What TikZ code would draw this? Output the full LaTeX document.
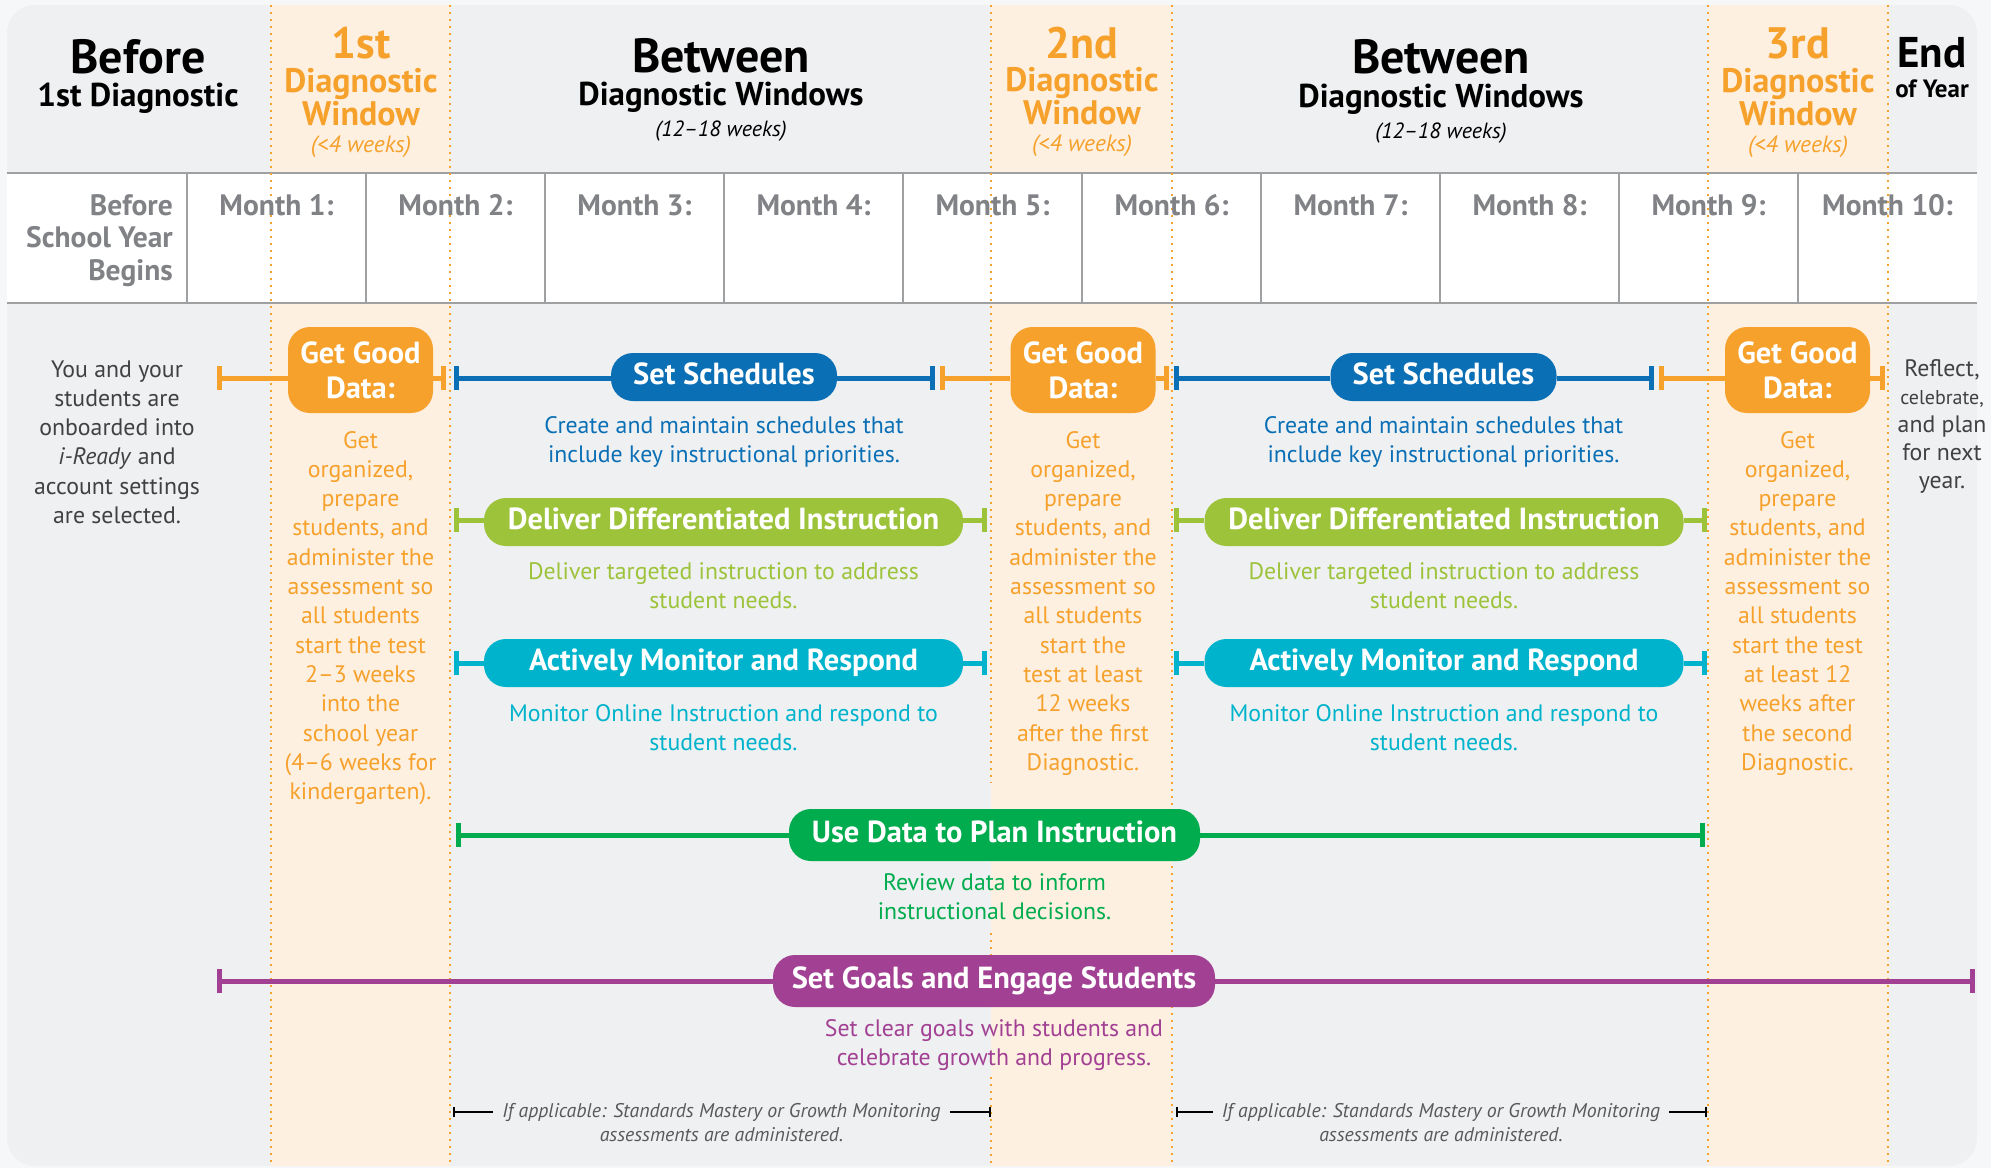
\documentclass[tikz,border=0pt]{standalone}
\usepackage{fontspec}
\setmainfont{PT Sans}
\usetikzlibrary{arrows.meta}
\definecolor{cOrange}{HTML}{F6A12C}
\definecolor{cBlue}{HTML}{0B6FB6}
\definecolor{cLime}{HTML}{9DC33B}
\definecolor{cCyan}{HTML}{00B3CC}
\definecolor{cGreen}{HTML}{00AC4E}
\definecolor{cPurple}{HTML}{A24093}
\definecolor{cPanel}{HTML}{EEF0F1}
\definecolor{cOuter}{HTML}{F5F7F8}
\definecolor{cPeach}{HTML}{FEF0E1}
\definecolor{cGrid}{HTML}{9FA0A2}
\definecolor{cMonth}{HTML}{808285}
\definecolor{cDark}{HTML}{414042}
\definecolor{cFoot}{HTML}{58595B}
\newcommand\stk[1]{\begin{tabular}[t]{@{}c@{}}#1\end{tabular}}
\newcommand\stkr[1]{\begin{tabular}[t]{@{}r@{}}#1\end{tabular}}
\tikzset{
  txt/.style={inner sep=0pt, anchor=base},
  big/.style={txt, font=\fontsize{48}{52}\selectfont\bfseries},
  sub/.style={txt, font=\fontsize{33}{36}\selectfont\bfseries},
  wk/.style={txt, font=\fontsize{22}{25}\selectfont\itshape},
  ordn/.style={txt, text=cOrange, font=\fontsize{44}{48}\selectfont\bfseries},
  dw/.style={txt, text=cOrange, font=\fontsize{34}{36}\selectfont\bfseries},
  owk/.style={txt, text=cOrange, font=\fontsize{23.5}{26}\selectfont\itshape},
  month/.style={txt, text=cMonth, font=\fontsize{29.5}{32.5}\selectfont\bfseries},
  body/.style={txt, font=\fontsize{23.8}{29.3}\selectfont},
  pill/.style={rounded corners=22pt, minimum height=48pt, inner sep=0pt, text=white,
    font=\fontsize{30.5}{32}\selectfont\bfseries, text height=22pt, text depth=6.5pt},
  ggd/.style={rounded corners=22pt, minimum width=145pt, minimum height=86pt, inner sep=0pt,
    fill=cOrange, text=white, align=center, font=\fontsize{30.5}{35}\selectfont\bfseries},
  link/.style={line width=5pt},
  barS/.style={arrows={Bar[width=24pt]-}},
  barE/.style={arrows={-Bar[width=24pt]}},
  foot/.style={anchor=base, inner xsep=9pt, inner ysep=0pt, text=cFoot, font=\fontsize{19.8}{24}\selectfont\itshape},
  fline/.style={line width=2pt, black},
  dots/.style={cOrange, line width=2.2pt, dash pattern=on 2.2pt off 4.8pt},
}
\begin{document}
\begin{tikzpicture}[x=1pt,y=-1pt]
\useasboundingbox (0,0) rectangle (1991,1168);
\fill[cOuter] (0,0) rectangle (1991,1168);
% panel and bands
\fill[cPanel, rounded corners=28pt] (7,5) rectangle (1977,1166);
\foreach \a/\b in {271/450, 991/1172, 1708/1888}
  \fill[cPeach] (\a,5) rectangle (\b,1166);
% table row
\fill[white] (7,173) rectangle (1977,303);
\foreach \i in {0,...,9}
  \draw[cGrid, line width=2pt] ({187+179*\i},173) -- ({187+179*\i},303);
\draw[cGrid, line width=2.5pt] (7,173) -- (1977,173);
\draw[cGrid, line width=2.5pt] (7,303) -- (1977,303);
% dotted lines
\foreach \x in {271,450,1172,1708,1888}
  \draw[dots] (\x,5) -- (\x,1166);
\draw[dots] (991,5) -- (991,783);
\draw[dots] (991,933) -- (991,955);
\draw[dots] (991,1077) -- (991,1166);

% header
\node[big] (h0a) at (138,73) {Before};
\node[sub] (h0b) at (138,106) {1st Diagnostic};
\node[ordn] (h1a) at (361,58) {1st};
\node[dw] (h1b) at (361,92) {Diagnostic};
\node[dw] (h1c) at (361,125) {Window};
\node[owk] (h1d) at (361,152) {(<4 weeks)};
\node[big] (h2a) at (721,72) {Between};
\node[sub] (h2b) at (721,105) {Diagnostic Windows};
\node[wk] (h2c) at (721,136) {(12–18 weeks)};
\node[ordn] (h3a) at (1082,58) {2nd};
\node[dw] (h3b) at (1082,91) {Diagnostic};
\node[dw] (h3c) at (1082,124) {Window};
\node[owk] (h3d) at (1082,151) {(<4 weeks)};
\node[big] (h4a) at (1441,73) {Between};
\node[sub] (h4b) at (1441,107) {Diagnostic Windows};
\node[wk] (h4c) at (1441,138) {(12–18 weeks)};
\node[ordn] (h5a) at (1798,58) {3rd};
\node[dw] (h5b) at (1798,92) {Diagnostic};
\node[dw] (h5c) at (1798,125) {Window};
\node[owk] (h5d) at (1798,152) {(<4 weeks)};
\node[txt, font=\fontsize{43}{46}\selectfont\bfseries] (h6a) at (1932,67) {End};
\node[txt, font=\fontsize{25}{28}\selectfont\bfseries] (h6b) at (1932,97) {of Year};

% months
\node[month, anchor=base east] (m0) at (173,215) {\stkr{Before\\School Year\\Begins}};
\foreach \i in {1,...,10}
  \node[month] (m\i) at ({276.5+179*(\i-1)},215) {Month \i:};

% side texts
\node[body, text=cDark] (intro) at (117,377) {\stk{You and your\\students are\\onboarded into\\\textit{i-Ready} and\\account settings\\are selected.}};
\node[body, text=cDark, font=\fontsize{23.8}{28}\selectfont] (refl) at (1942,376) {\stk{Reflect,\\{\fontsize{20}{24}\selectfont celebrate,}\\and plan\\for next\\year.}};

% get good data boxes
\node[ggd] (gg1) at (360.5,370) {Get Good\\Data:};
\node[ggd] (gg2) at (1083,370) {Get Good\\Data:};
\node[ggd] (gg3) at (1797.5,370) {Get Good\\Data:};
\node[body, text=cOrange] (gd1) at (360.5,448) {\stk{Get\\organized,\\prepare\\students, and\\administer the\\assessment so\\all students\\start the test\\2–3 weeks\\into the\\school year\\(4–6 weeks for\\kindergarten).}};
\node[body, text=cOrange] (gd2) at (1083,448) {\stk{Get\\organized,\\prepare\\students, and\\administer the\\assessment so\\all students\\start the\\test at least\\12 weeks\\after the first\\Diagnostic.}};
\node[body, text=cOrange] (gd3) at (1797.5,448) {\stk{Get\\organized,\\prepare\\students, and\\administer the\\assessment so\\all students\\start the test\\at least 12\\weeks after\\the second\\Diagnostic.}};

% pills
\node[pill, fill=cBlue, minimum width=226pt] (ss1) at (724,377) {Set Schedules};
\node[pill, fill=cBlue, minimum width=226pt] (ss2) at (1443.5,377) {Set Schedules};
\node[pill, fill=cLime, minimum width=479pt] (dd1) at (723.5,522) {Deliver Differentiated Instruction};
\node[pill, fill=cLime, minimum width=479pt] (dd2) at (1444,522) {Deliver Differentiated Instruction};
\node[pill, fill=cCyan, minimum width=479pt] (am1) at (723.5,663) {Actively Monitor and Respond};
\node[pill, fill=cCyan, minimum width=479pt] (am2) at (1444,663) {Actively Monitor and Respond};
\node[pill, fill=cGreen, minimum width=411pt, minimum height=52pt] (ud) at (994.5,835) {Use Data to Plan Instruction};
\node[pill, fill=cPurple, minimum width=442pt, minimum height=52pt] (sg) at (994,981) {Set Goals and Engage Students};

% descriptions
\node[body, text=cBlue] (ssd1) at (724,433) {\stk{Create and maintain schedules that\\include key instructional priorities.}};
\node[body, text=cBlue] (ssd2) at (1443.5,433) {\stk{Create and maintain schedules that\\include key instructional priorities.}};
\node[body, text=cLime] (ddd1) at (723.5,579) {\stk{Deliver targeted instruction to address\\student needs.}};
\node[body, text=cLime] (ddd2) at (1444,579) {\stk{Deliver targeted instruction to address\\student needs.}};
\node[body, text=cCyan] (amd1) at (723.5,721) {\stk{Monitor Online Instruction and respond to\\student needs.}};
\node[body, text=cCyan] (amd2) at (1444,721) {\stk{Monitor Online Instruction and respond to\\student needs.}};
\node[body, text=cGreen] (udd) at (994.5,890) {\stk{Review data to inform\\instructional decisions.}};
\node[body, text=cPurple] (sgd) at (994,1036) {\stk{Set clear goals with students and\\celebrate growth and progress.}};

% bar end coordinates
\coordinate (o1L) at (217,378);  \coordinate (o1R) at (446,378);
\coordinate (b1L) at (454,378);  \coordinate (b1R) at (935,378);
\coordinate (o2L) at (940,378);  \coordinate (o2R) at (1169,378);
\coordinate (b2L) at (1174,378); \coordinate (b2R) at (1654,378);
\coordinate (o3L) at (1659,378); \coordinate (o3R) at (1885,378);
\coordinate (l1L) at (454,520);  \coordinate (l1R) at (987,520);
\coordinate (l2L) at (1174,520); \coordinate (l2R) at (1707,520);
\coordinate (c1L) at (454,663);  \coordinate (c1R) at (987,663);
\coordinate (c2L) at (1174,663); \coordinate (c2R) at (1707,663);
\coordinate (gL) at (456,835);   \coordinate (gR) at (1705,835);
\coordinate (pL) at (217,981);   \coordinate (pR) at (1975,981);

% connectors
\draw[link, cOrange, barS] (o1L) -- (o1L -| gg1.west);
\draw[link, cOrange, barE] (o1L -| gg1.east) -- (o1R);
\draw[link, cBlue, barS] (b1L) -- (b1L -| ss1.west);
\draw[link, cBlue, barE] (b1L -| ss1.east) -- (b1R);
\draw[link, cOrange, barS] (o2L) -- (o2L -| gg2.west);
\draw[link, cOrange, barE] (o2L -| gg2.east) -- (o2R);
\draw[link, cBlue, barS] (b2L) -- (b2L -| ss2.west);
\draw[link, cBlue, barE] (b2L -| ss2.east) -- (b2R);
\draw[link, cOrange, barS] (o3L) -- (o3L -| gg3.west);
\draw[link, cOrange, barE] (o3L -| gg3.east) -- (o3R);
\draw[link, cLime, barS] (l1L) -- (l1L -| dd1.west);
\draw[link, cLime, barE] (l1L -| dd1.east) -- (l1R);
\draw[link, cLime, barS] (l2L) -- (l2L -| dd2.west);
\draw[link, cLime, barE] (l2L -| dd2.east) -- (l2R);
\draw[link, cCyan, barS] (c1L) -- (c1L -| am1.west);
\draw[link, cCyan, barE] (c1L -| am1.east) -- (c1R);
\draw[link, cCyan, barS] (c2L) -- (c2L -| am2.west);
\draw[link, cCyan, barE] (c2L -| am2.east) -- (c2R);
\draw[link, cGreen, barS] (gL) -- (gL -| ud.west);
\draw[link, cGreen, barE] (gL -| ud.east) -- (gR);
\draw[link, cPurple, barS] (pL) -- (pL -| sg.west);
\draw[link, cPurple, barE] (pL -| sg.east) -- (pR);

% footnotes
\node[foot] (f1a) at (721.5,1117) {If applicable: Standards Mastery or Growth Monitoring};
\node[foot] (f1b) at (721.5,1141) {assessments are administered.};
\node[foot] (f2a) at (1441,1117) {If applicable: Standards Mastery or Growth Monitoring};
\node[foot] (f2b) at (1441,1141) {assessments are administered.};
\coordinate (f1L) at (453,1112); \coordinate (f1R) at (991,1112);
\coordinate (f2L) at (1176,1112); \coordinate (f2R) at (1707,1112);
\draw[fline, arrows={Bar[width=10pt]-}] (f1L) -- (f1L -| f1a.west);
\draw[fline, arrows={-Bar[width=10pt]}] (f1L -| f1a.east) -- (f1R);
\draw[fline, arrows={Bar[width=10pt]-}] (f2L) -- (f2L -| f2a.west);
\draw[fline, arrows={-Bar[width=10pt]}] (f2L -| f2a.east) -- (f2R);
\end{tikzpicture}
\end{document}
